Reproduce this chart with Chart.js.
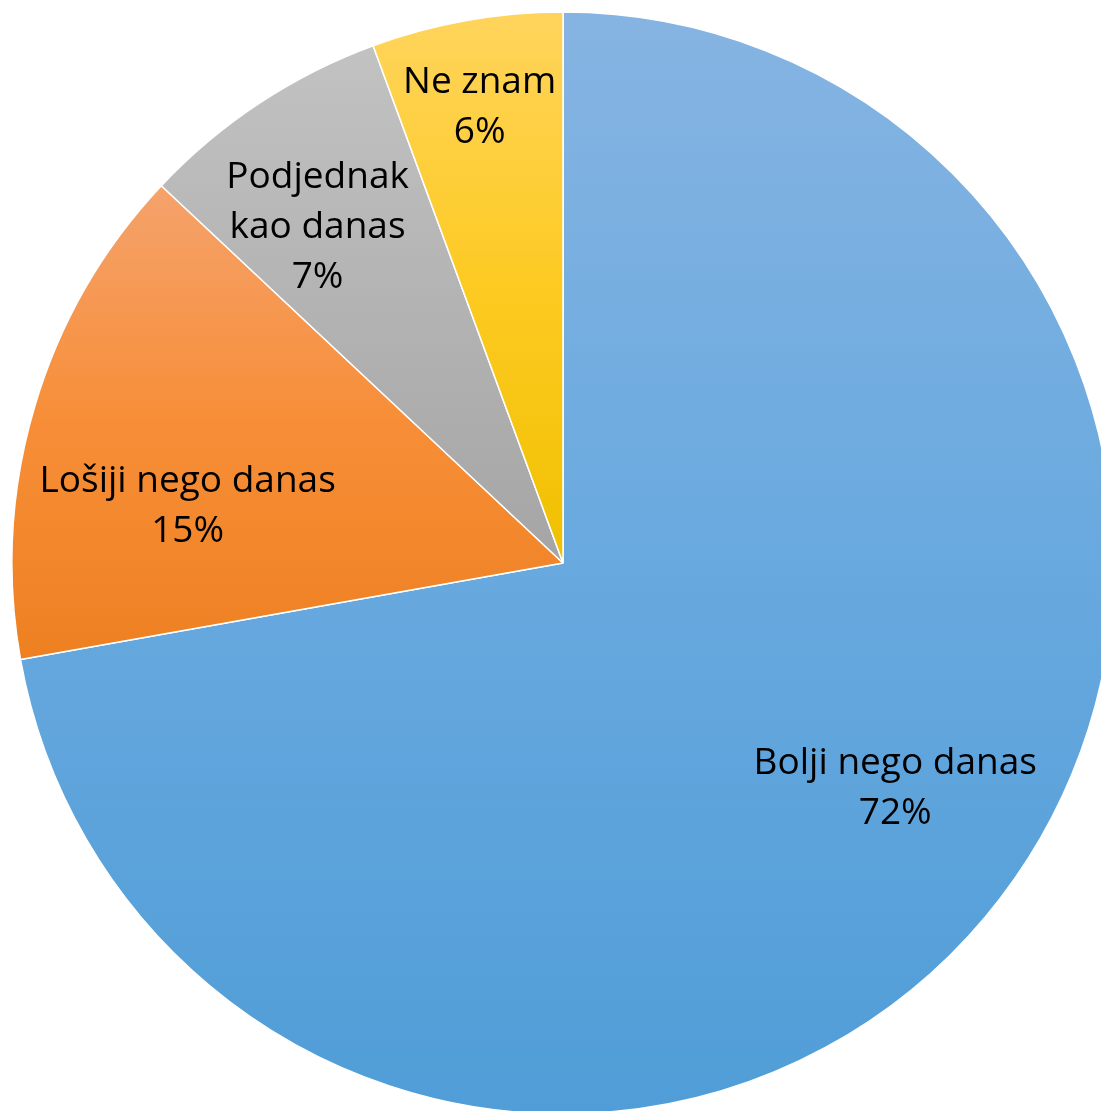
<!DOCTYPE html>
<html>
<head>
<meta charset="utf-8">
<script src="https://cdn.jsdelivr.net/npm/chart.js@4/dist/chart.umd.min.js"></script>
<style>
  html, body { margin: 0; padding: 0; background: #fff; overflow: hidden; }
  #wrap { position: absolute; left: 0; top: 0; width: 1126px; height: 1126px; }
</style>
</head>
<body>
<div id="wrap"><canvas id="pieChart" width="1126" height="1126"></canvas></div>
<script>
// Answers
const categories = ['Bolji nego danas', 'Lošiji nego danas', 'Podjednak kao danas', 'Ne znam'];
const shares = [72.2, 14.8, 7.4, 5.6];
// label text split into lines
const labelLines = [['Bolji nego danas'], ['Lošiji nego danas'], ['Podjednak', 'kao danas'], ['Ne znam']];

// top / middle / bottom colours of each slice gradient
const colorTop = ['#86b4e2', '#f5a26c', '#c2c2c2', '#ffd45c'];
const colorMid = ['#68a9df', '#f78e37', '#b3b3b3', '#fdca22'];
const colorBottom = ['#509dd7', '#ee8021', '#a5a5a5', '#f0c000'];

// where the label sits: fraction through the slice's angle, fraction of radius
const labelPlace = [
    { a: 0.476, r: 0.725 },
    { a: 0.36, r: 0.69 },
    { a: 0.41, r: 0.76 },
    { a: 0.49, r: 0.848 }
];

// give each arc its own vertical gradient over its bounding box
const sliceGradient = {
    id: 'sliceGradient',
    beforeDatasetsDraw(chart) {
        const ctx = chart.ctx;
        const meta = chart.getDatasetMeta(0);
        meta.data.forEach((arc, i) => {
            const { x, y, startAngle, endAngle, outerRadius } = arc.getProps(['x', 'y', 'startAngle', 'endAngle', 'outerRadius'], true);
            let ymin = y, ymax = y;
            for (let k = 0; k <= 60; k++) {
                const t = startAngle + (endAngle - startAngle) * k / 60;
                const py = y + Math.sin(t) * outerRadius;
                ymin = Math.min(ymin, py);
                ymax = Math.max(ymax, py);
            }
            const g = ctx.createLinearGradient(0, ymin, 0, ymax);
            g.addColorStop(0, colorTop[i]);
            g.addColorStop(0.5, colorMid[i]);
            g.addColorStop(1, colorBottom[i]);
            arc.options.backgroundColor = g;
        });
    }
};

// percent labels inside the slices
const sliceLabels = {
    id: 'sliceLabels',
    afterDatasetsDraw(chart) {
        const ctx = chart.ctx;
        const meta = chart.getDatasetMeta(0);
        const total = shares.reduce((s, v) => s + v, 0);
        ctx.save();
        ctx.font = '37px "Open Sans", "Noto Sans", sans-serif';
        ctx.fillStyle = '#000';
        ctx.textAlign = 'center';
        ctx.textBaseline = 'middle';
        const lineH = 50;
        meta.data.forEach((arc, i) => {
            const { x, y, startAngle, endAngle, outerRadius } = arc.getProps(['x', 'y', 'startAngle', 'endAngle', 'outerRadius'], true);
            const p = labelPlace[i];
            const ang = startAngle + (endAngle - startAngle) * p.a;
            const cx = x + Math.cos(ang) * outerRadius * p.r;
            const cy = y + Math.sin(ang) * outerRadius * p.r + 4;
            const lines = labelLines[i].concat([Math.round(shares[i] / total * 100) + '%']);
            const top = cy - (lines.length - 1) * lineH / 2;
            lines.forEach((ln, j) => ctx.fillText(ln, cx, top + j * lineH));
        });
        ctx.restore();
    }
};

new Chart(document.getElementById('pieChart'), {
    type: 'pie',
    data: {
        labels: categories,
        datasets: [{
            data: shares,
            backgroundColor: colorMid,
            borderColor: '#ffffff',
            borderWidth: 1.5
        }]
    },
    options: {
        responsive: false,
        animation: false,
        radius: 551,
        layout: { padding: 0 },
        plugins: {
            legend: { display: false },
            tooltip: { enabled: false }
        }
    },
    plugins: [sliceGradient, sliceLabels]
});
</script>
</body>
</html>
